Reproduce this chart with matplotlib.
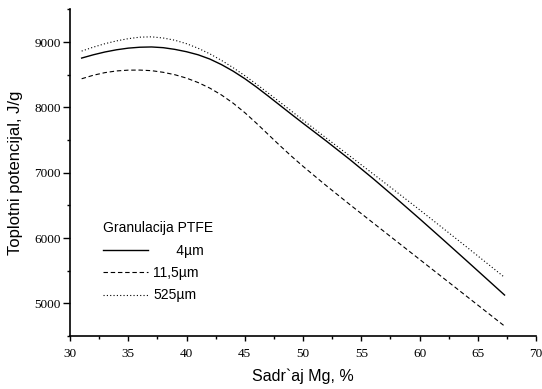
import matplotlib
matplotlib.use("Agg")
import matplotlib.pyplot as plt
from matplotlib.ticker import MultipleLocator

# Mg content, %
mg = [31, 32, 33, 34, 35, 36, 37, 38, 39, 40, 41, 42, 43, 44, 45, 46, 47, 48, 49, 50,
      52, 54, 56, 58, 60, 62, 64, 66, 67.3]

# heat potential, J/g, per PTFE granulation
q_4um = [8755, 8805, 8848, 8882, 8907, 8921, 8925, 8914, 8888, 8852, 8805, 8740, 8655, 8555,
         8440, 8312, 8175, 8035, 7895, 7757, 7485, 7205, 6912, 6607, 6296, 5979, 5659, 5337, 5127]
q_11um = [8438, 8492, 8532, 8558, 8570, 8571, 8562, 8537, 8500, 8448, 8380, 8295, 8190, 8065,
          7920, 7758, 7588, 7418, 7254, 7098, 6801, 6515, 6234, 5954, 5674, 5394, 5114, 4834, 4652]
q_525um = [8862, 8922, 8975, 9018, 9052, 9075, 9080, 9062, 9028, 8975, 8905, 8820, 8720, 8608,
           8486, 8356, 8221, 8083, 7944, 7805, 7530, 7258, 6984, 6710, 6433, 6152, 5869, 5584, 5398]

labels = ["      4\u00b5m", "11,5\u00b5m", "525\u00b5m"]

sans = ["Liberation Sans", "DejaVu Sans"]
serif = ["Liberation Serif", "DejaVu Serif"]

fig = plt.figure(figsize=(5.42, 3.89), dpi=100)
ax = fig.add_axes([70 / 542, 53 / 389, 466 / 542, 326.6 / 389])

ax.plot(mg, q_4um, color="black", lw=1.0, label=labels[0])
ax.plot(mg, q_11um, color="black", lw=0.8, linestyle=(0, (4, 2.5)), label=labels[1])
ax.plot(mg, q_525um, color="black", lw=0.8, linestyle=(0, (1, 2)), label=labels[2])

ax.set_xlim(30, 70)
ax.set_ylim(4500, 9500)
ax.xaxis.set_major_locator(MultipleLocator(5))
ax.xaxis.set_minor_locator(MultipleLocator(2.5))
ax.yaxis.set_major_locator(MultipleLocator(1000))
ax.yaxis.set_minor_locator(MultipleLocator(500))

for side in ["top", "right"]:
    ax.spines[side].set_visible(False)
for side in ["left", "bottom"]:
    ax.spines[side].set_linewidth(1.2)

ax.tick_params(axis="x", which="major", direction="out", length=3.5, width=1.0, pad=5)
ax.tick_params(axis="x", which="minor", direction="out", length=2.2, width=1.0)
ax.tick_params(axis="y", which="major", direction="out", length=5, width=1.0, pad=1.5)
ax.tick_params(axis="y", which="minor", direction="out", length=2.5, width=1.0)
for lab in ax.get_xticklabels() + ax.get_yticklabels():
    lab.set_family(serif)
    lab.set_fontsize(9.5)

ax.set_xlabel("Sadr`aj Mg, %", family=sans, fontsize=11.5, labelpad=6)
ax.set_ylabel("Toplotni potencijal, J/g", family=sans, fontsize=12, labelpad=8)

leg = ax.legend(title="Granulacija PTFE", loc="upper left", bbox_to_anchor=(0.071, 0.351),
                frameon=False, borderpad=0, borderaxespad=0, handlelength=3.2,
                handletextpad=0.4, labelspacing=0.6, alignment="left",
                prop={"family": sans, "size": 10}, title_fontproperties={"family": sans, "size": 10})

fig.savefig("out.png", dpi=100)
